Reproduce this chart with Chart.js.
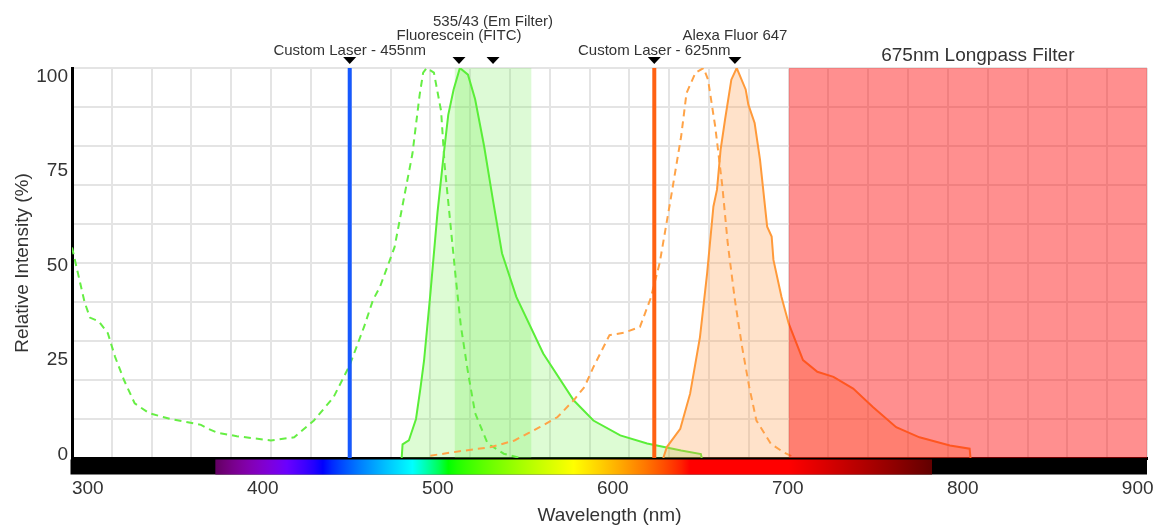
<!DOCTYPE html>
<html>
<head>
<meta charset="utf-8">
<script src="https://cdn.jsdelivr.net/npm/chart.js@4"></script>
<style>
  body { margin: 0; background: #fff; }
  #wrap { width: 1154px; height: 525px; }
</style>
</head>
<body>
<div id="wrap"><canvas id="spectraChart"></canvas></div>
<script>
// spectra (wavelength nm / relative intensity %)
const fitcExNm  = [300, 304, 307, 310, 315, 320, 324, 329, 335, 343, 355, 372, 376, 381, 392, 411, 424, 435, 446, 455, 463, 468, 472, 480, 485, 490, 494, 496, 498, 502, 506, 508, 511, 514, 517, 521, 525, 532, 541, 550];
const fitcExPct = [54, 46, 40, 36, 35, 32, 26, 20, 14, 11.5, 10, 8.5, 7.5, 6.5, 5.6, 4.5, 5.3, 9.6, 15.6, 23.8, 33.6, 40.5, 44, 54, 66, 78, 93, 98.8, 100, 98.8, 89, 75, 61, 47, 34, 22, 11.5, 3.7, 1.1, 0];

const fitcEmNm  = [484, 484.5, 488, 492, 494.5, 496.5, 500, 504, 507.5, 510, 513, 516.5, 521, 525, 530, 535, 540, 548, 563, 580, 591, 606, 621, 640, 651, 651.5];
const fitcEmPct = [0, 3.5, 4.5, 10, 18, 25, 42, 63, 78, 88, 94.5, 100, 98.3, 92, 80, 66, 52.5, 41.3, 26.8, 14.8, 9.6, 5.8, 3.7, 1.9, 1, 0];

const a647ExNm  = [500, 519, 534, 547, 561, 571, 580, 586, 591, 600, 608, 617, 623, 628, 634, 640, 643, 648, 652.5, 655, 659, 663, 666, 670, 674, 678, 682, 690, 697, 701, 701.5];
const a647ExPct = [0.6, 1.9, 2.8, 4.5, 7.9, 10.5, 14.8, 18.2, 23.3, 31.5, 32.1, 33.6, 41, 50, 66, 82.5, 93.6, 98.8, 100, 97, 85, 69.6, 55, 40.5, 28.5, 18.2, 9.6, 3.7, 1.5, 0.6, 0];

const a647EmNm  = [630, 632, 639.5, 645, 650.5, 654.5, 658, 660, 662, 664.5, 668, 671, 676, 677.5, 681, 684, 688, 690.5, 691.5, 696, 700, 708, 716, 725, 736, 747, 760, 773, 790, 801, 801.5];
const a647EmPct = [0, 2.8, 7.5, 16.5, 31, 47.4, 64.5, 68.8, 79, 86.8, 97, 100, 94.5, 90.6, 85.9, 76.5, 59.3, 56.8, 50.8, 41.3, 34.5, 25.1, 22.1, 20.8, 17.8, 13.1, 7.9, 5.3, 3.2, 2.4, 0];

const laserNm = [455, 625];
const emFilterNm = [513.5, 556.5];   // 535/43
const longpassNm = [700, 900];
const visibleNm = [380, 780];

const markerNm   = [455, 516, 535, 625, 670];
const markerText = ['Custom Laser - 455nm', 'Fluorescein (FITC)', '535/43 (Em Filter)', 'Custom Laser - 625nm', 'Alexa Fluor 647'];
const markerRow  = [0, 1, 2, 0, 1];
const longpassText = '675nm Longpass Filter';

const xTickLabels = [300, 400, 500, 600, 700, 800, 900];
const yTickLabels = [0, 25, 50, 75, 100];

const FONT = 'Helvetica, Arial, "Liberation Sans", sans-serif';
const pts = (xs, ys) => xs.map((x, i) => ({x: x, y: ys[i]}));

// rough wavelength -> rgb for the spectrum strip
function specColor(w) {
  let r = 0, g = 0, b = 0;
  if (w < 440) { r = (440 - w) / 60; b = 1; }
  else if (w < 490) { g = (w - 440) / 50; b = 1; }
  else if (w < 510) { g = 1; b = (510 - w) / 20; }
  else if (w < 580) { r = (w - 510) / 70; g = 1; }
  else if (w < 645) { r = 1; g = (645 - w) / 65; }
  else { r = 1; }
  let f = 1;
  if (w < 420) f = 0.3 + 0.7 * (w - 380) / 40;
  else if (w > 700) f = 0.3 + 0.7 * (780 - w) / 80;
  const c = v => Math.round(255 * Math.pow(v * f, 0.8));
  return 'rgb(' + c(r) + ',' + c(g) + ',' + c(b) + ')';
}

const extrasPlugin = {
  id: 'extras',
  afterDatasetsDraw(chart) {
    const ctx = chart.ctx, xs = chart.scales.x, area = chart.chartArea;
    // spectrum strip under the axis
    const top = area.bottom + 1.5, h = 15;
    const x0 = xs.getPixelForValue(300), x1 = xs.getPixelForValue(900);
    ctx.save();
    ctx.fillStyle = '#000';
    ctx.fillRect(x0 - 1.5, top, x1 - x0 + 1.5, h);
    const a = xs.getPixelForValue(visibleNm[0]), b = xs.getPixelForValue(visibleNm[1]);
    const grad = ctx.createLinearGradient(a, 0, b, 0);
    for (let w = visibleNm[0]; w <= visibleNm[1]; w += 5) {
      grad.addColorStop((w - visibleNm[0]) / (visibleNm[1] - visibleNm[0]), specColor(w));
    }
    ctx.fillStyle = grad;
    ctx.fillRect(a, top, b - a, h);
    ctx.restore();
  },
  afterDraw(chart) {
    const ctx = chart.ctx, xs = chart.scales.x, area = chart.chartArea;
    ctx.save();
    ctx.fillStyle = '#000';
    markerNm.forEach((nm, i) => {
      const x = xs.getPixelForValue(nm);
      ctx.beginPath();
      ctx.moveTo(x - 6.5, area.top - 11);
      ctx.lineTo(x + 6.5, area.top - 11);
      ctx.lineTo(x, area.top - 4);
      ctx.closePath();
      ctx.fill();
    });
    ctx.fillStyle = '#333';
    ctx.textAlign = 'center';
    ctx.textBaseline = 'middle';
    ctx.font = '15px ' + FONT;
    markerNm.forEach((nm, i) => {
      ctx.fillText(markerText[i], xs.getPixelForValue(nm), area.top - 17.5 - markerRow[i] * 14.5);
    });
    ctx.font = '19px ' + FONT;
    const lx = (xs.getPixelForValue(longpassNm[0]) + xs.getPixelForValue(longpassNm[1])) / 2 + 10;
    ctx.fillText(longpassText, lx, area.top - 12);
    ctx.restore();
  }
};

const line = (label, data, color, extra) => Object.assign({
  label: label,
  data: data,
  borderColor: color,
  borderWidth: 2,
  pointRadius: 0,
  fill: false
}, extra);

const datasets = [
  line('675nm Longpass Filter', pts(longpassNm, [100, 100]), 'rgba(0,0,0,0)', {
    borderWidth: 0, fill: 'origin', backgroundColor: 'rgba(255,0,0,0.44)', order: 0
  }),
  line('Custom Laser - 455nm', pts([laserNm[0], laserNm[0]], [0, 100]), '#1659ff', {borderWidth: 4, order: 1}),
  line('Custom Laser - 625nm', pts([laserNm[1], laserNm[1]], [0, 100]), '#ff6212', {borderWidth: 4, order: 1}),
  line('Alexa Fluor 647 Em', pts(a647EmNm, a647EmPct), '#ff9a3a', {
    fill: 'origin', backgroundColor: 'rgba(255,160,80,0.3)', order: 2
  }),
  line('Alexa Fluor 647 Ex', pts(a647ExNm, a647ExPct), '#ffa347', {borderDash: [7, 5], order: 3}),
  line('Fluorescein Ex', pts(fitcExNm, fitcExPct), '#66ee44', {borderDash: [7, 5], order: 3}),
  line('Fluorescein Em', pts(fitcEmNm, fitcEmPct), '#5aee38', {
    fill: 'origin', backgroundColor: 'rgba(100,240,60,0.22)', order: 4
  }),
  line('535/43 (Em Filter)', pts(emFilterNm, [100, 100]), 'rgba(0,0,0,0)', {
    borderWidth: 0, fill: 'origin', backgroundColor: 'rgba(120,235,90,0.25)', order: 5
  })
];

const gridCfg = {color: '#e4e4e4', lineWidth: 2, drawTicks: false};
const noSidePad = s => { s.paddingLeft = 0; s.paddingRight = 0; };

const config = {
  type: 'line',
  data: {datasets: datasets},
  plugins: [extrasPlugin],
  options: {
    responsive: true,
    maintainAspectRatio: false,
    animation: false,
    layout: {padding: {top: 68, right: 7, bottom: 0, left: 0}},
    plugins: {legend: {display: false}, tooltip: {enabled: false}},
    scales: {
      x: {
        type: 'linear', position: 'bottom', weight: 0,
        min: 300, max: 900,
        afterBuildTicks: s => { s.ticks = Array.from({length: 28}, (_, k) => ({value: 300 + k * 600 / 27})); },
        afterFit: s => { s.height = 0; noSidePad(s); },
        grid: gridCfg,
        border: {color: '#000', width: 3},
        ticks: {display: false}
      },
      xl: {
        type: 'linear', position: 'bottom', weight: 1,
        min: 291, max: 905.3,
        afterBuildTicks: s => { s.ticks = xTickLabels.map(v => ({value: v})); },
        afterFit: s => { s.height = 67; noSidePad(s); },
        grid: {display: false, drawTicks: false},
        border: {display: false},
        ticks: {padding: 19, color: '#333', font: {family: FONT, size: 19}, maxRotation: 0},
        title: {display: true, text: 'Wavelength (nm)', color: '#333', font: {family: FONT, size: 19, lineHeight: 1}, padding: 0}
      },
      y: {
        type: 'linear', position: 'left', weight: 0,
        min: 0, max: 100,
        ticks: {display: false, stepSize: 10},
        afterFit: s => { s.width = 0; },
        grid: gridCfg,
        border: {color: '#000', width: 3}
      },
      yl: {
        type: 'linear', position: 'left', weight: 1,
        min: -0.93, max: 102.25,
        afterBuildTicks: s => { s.ticks = yTickLabels.map(v => ({value: v})); },
        afterFit: s => { s.width = 72; },
        grid: {display: false, drawTicks: false},
        border: {display: false},
        ticks: {padding: 4, color: '#333', font: {family: FONT, size: 19}},
        title: {display: true, text: 'Relative Intensity (%)', color: '#333', font: {family: FONT, size: 19}, padding: {top: 11.6, bottom: 0}}
      }
    }
  }
};

const ctx = document.getElementById('spectraChart').getContext('2d');
const spectraChart = new Chart(ctx, config);
</script>
</body>
</html>
